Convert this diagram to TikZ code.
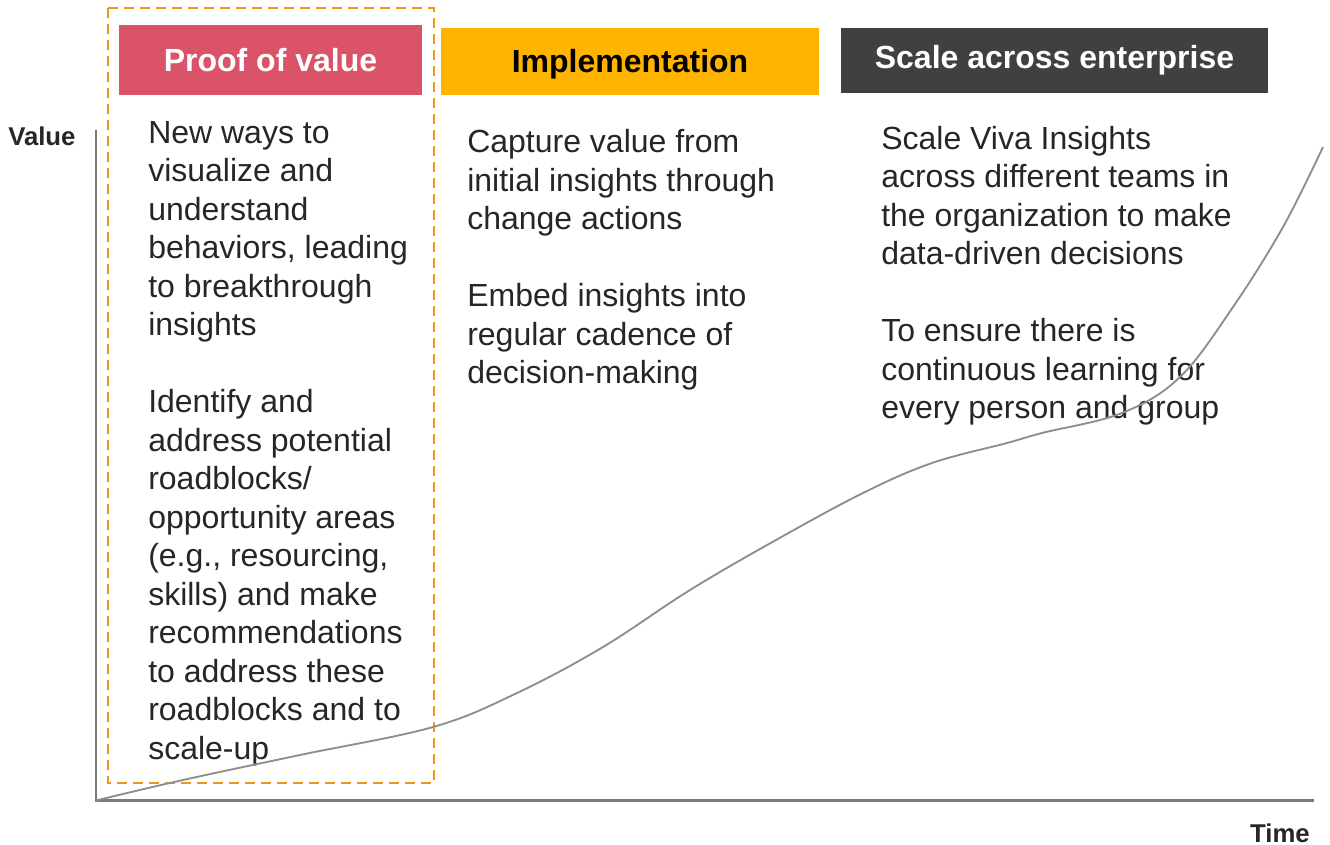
\documentclass[tikz,border=0pt]{standalone}
\usepackage{fontspec}
\setmainfont{Liberation Sans}
\usepackage{tikz}

\definecolor{povred}{HTML}{DB5369}
\definecolor{implyellow}{HTML}{FFB500}
\definecolor{scalegray}{HTML}{404040}
\definecolor{frameorange}{HTML}{F0941A}
\definecolor{bodytext}{HTML}{262626}
\definecolor{axisgray}{HTML}{7A7A7A}
\definecolor{curvegray}{HTML}{8E8E8E}

\tikzset{
	head/.style={inner sep=0, text height=17.2pt, text depth=0pt, font=\fontsize{24}{28.875}\selectfont\bfseries},
	txt/.style={anchor=north west, inner sep=0, align=left, text=bodytext, font=\fontsize{24}{28.875}\selectfont},
	lbl/.style={inner sep=0, text=bodytext, font=\fontsize{19.3}{23}\selectfont\bfseries},
}

\begin{document}
\begin{tikzpicture}[x=0.75pt, y=-0.75pt]
	\useasboundingbox (0,0) rectangle (1330,845);
	
	% phase headers
	\node[head, fill=povred, text=white, minimum width=227.25pt, minimum height=52.5pt] (pov) at (270.5,60) {Proof of value};
	\node[head, fill=implyellow, text=black, minimum width=283.5pt, minimum height=50.25pt] (impl) at (630,61.3) {Implementation};
	\node[head, fill=scalegray, text=white, text depth=4.5pt, minimum width=320.25pt, minimum height=48.75pt] (scale) at (1054.5,60.3) {Scale across enterprise};
	
	% highlight frame
	\draw[frameorange, line width=2.2pt, dash pattern=on 7.5pt off 4.5pt] (108,8) rectangle (434,783);
	
	% phase texts
	\node[txt] (povtxt) at (148,116) {\strut New ways to\\ visualize and\\ understand\\ behaviors, leading\\ to breakthrough\\ insights\\[28.875pt]
		Identify and\\ address potential\\ roadblocks/\\ opportunity areas\\ (e.g., resourcing,\\ skills) and make\\ recommendations\\ to address these\\ roadblocks and to\\ scale-up};
	\node[txt] (impltxt) at (467,125.5) {\strut Capture value from\\ initial insights through\\ change actions\\[28.875pt]
		Embed insights into\\ regular cadence of\\ decision-making};
	\node[txt] (scaletxt) at (881,122) {\strut Scale Viva Insights\\ across different teams in\\ the organization to make\\ data-driven decisions\\[28.875pt]
		To ensure there is\\ continuous learning for\\ every person and group};
	
	% axes
	\coordinate (O) at (96,800.5);
	\coordinate (Y) at (96,130);
	\coordinate (X) at (1314,800.5);
	\draw[axisgray, line width=1.9pt] (Y) -- (O) -- (X);
	\node[lbl, anchor=base west] (value) at (8,145.5) {Value};
	\node[lbl, anchor=base east] (time) at (1310,842.5) {Time};
	
	% value curve
	\draw[curvegray, line width=1.4pt] plot[smooth, tension=0.6] coordinates {(O) (183,780) (300,755) (433,727) (517,693) (603,647) (690,590) (776,540) (863,493) (932,463) (1007,443) (1042,433) (1122,413) (1180,377) (1233,307) (1283,227) (1323,147)};
\end{tikzpicture}
\end{document}
